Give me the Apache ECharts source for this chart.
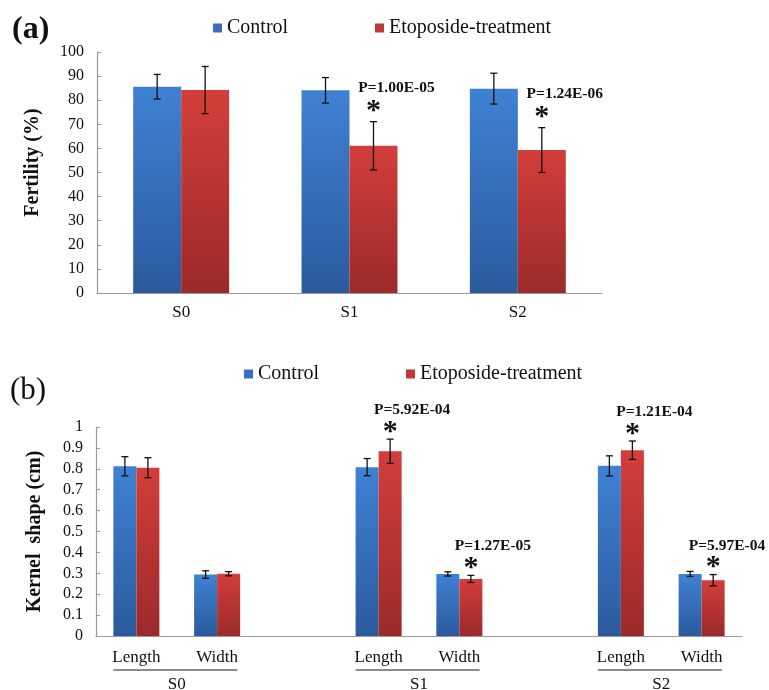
<!DOCTYPE html>
<html>
<head>
<meta charset="utf-8">
<script src="https://cdn.jsdelivr.net/npm/echarts@6/dist/echarts.min.js"></script>
<style>html,body{margin:0;padding:0;background:#fff}#c{width:769px;height:690px}</style>
</head>
<body>
<div id="c"></div>
<script>
// ---------- data ----------
const topCategories = ['S0', 'S1', 'S2'];
const topControl = [85.6, 84.1, 84.8];
const topControlErr = [5.1, 5.3, 6.4];
const topTreat = [84.2, 61.1, 59.3];
const topTreatErr = [9.8, 10.0, 9.3];
const topPValues = [null, 'P=1.00E-05', 'P=1.24E-06'];
const topYTicks = { min: 0, max: 100, interval: 10 };

const bottomCategories = ['Length', 'Width', '', 'Length', 'Width', '', 'Length', 'Width'];
const bottomControl = [0.812, 0.294, null, 0.808, 0.297, null, 0.814, 0.297];
const bottomControlErr = [0.046, 0.018, null, 0.041, 0.010, null, 0.048, 0.012];
const bottomTreat = [0.805, 0.298, null, 0.884, 0.273, null, 0.889, 0.267];
const bottomTreatErr = [0.048, 0.010, null, 0.058, 0.017, null, 0.044, 0.027];
const bottomPValues = [null, null, null, 'P=5.92E-04', 'P=1.27E-05', null, 'P=1.21E-04', 'P=5.97E-04'];
const groupLabels = ['S0', 'S1', 'S2'];
const groupStarts = [0, 3, 6];
const bottomYTicks = { min: 0, max: 1, interval: 0.1 };

const seriesNames = ['Control', 'Etoposide-treatment'];
const topLabels = ['(a)', '(b)'];
const yNames = ['Fertility (%)', 'Kernel  shape (cm)'];

// ---------- styles ----------
const FONT = "'Liberation Serif', 'Times New Roman', serif";
const TXT = '#111';
const AXIS = '#9a9a9a';
const GAP = 0.43;
const blueGrad = { type: 'linear', x: 0, y: 0, x2: 0, y2: 1, colorStops: [{ offset: 0, color: '#3f81d4' }, { offset: 1, color: '#2b5a9c' }] };
const redGrad = { type: 'linear', x: 0, y: 0, x2: 0, y2: 1, colorStops: [{ offset: 0, color: '#d33e3a' }, { offset: 1, color: '#9b2a2a' }] };

function errData(vals, errs) {
  const out = [];
  vals.forEach((v, i) => { if (v != null) out.push([i, v, errs[i]]); });
  return out;
}
function errRender(side) {
  return function (params, api) {
    const i = api.value(0), v = api.value(1), e = api.value(2);
    const band = api.size([1, 0])[0];
    const bw = band * (1 - GAP) / 2;
    const cx = api.coord([i, v])[0] + side * bw / 2;
    const hi = api.coord([i, v + e])[1];
    const lo = api.coord([i, v - e])[1];
    const cap = 3.5;
    const st = { stroke: '#111', lineWidth: 1.3 };
    return {
      type: 'group', children: [
        { type: 'line', shape: { x1: cx, y1: hi, x2: cx, y2: lo }, style: st },
        { type: 'line', shape: { x1: cx - cap, y1: hi, x2: cx + cap, y2: hi }, style: st },
        { type: 'line', shape: { x1: cx - cap, y1: lo, x2: cx + cap, y2: lo }, style: st }
      ]
    };
  };
}
function annoData(vals, errs, ps) {
  const out = [];
  ps.forEach((p, i) => { if (p) out.push([i, vals[i] + errs[i]]); });
  return out;
}
function annoRender(ps, cfg) {
  const idxs = ps.map((p, i) => p ? i : -1).filter(i => i >= 0);
  return function (params, api) {
    const i = api.value(0), top = api.value(1);
    const band = api.size([1, 0])[0];
    const bw = band * (1 - GAP) / 2;
    const c = api.coord([i, top]);
    const cx = c[0] + bw / 2;
    const px = Math.min(cx + cfg.pdx, api.getWidth() - 42);
    return {
      type: 'group', children: [
        { type: 'text', x: cx, y: c[1] - cfg.star, style: { text: '*', font: 'bold 30px ' + FONT, fill: '#111', align: 'center', verticalAlign: 'top' } },
        { type: 'text', x: px, y: c[1] - cfg.pdy, style: { text: ps[idxs[params.dataIndex]], font: 'bold 15.5px ' + FONT, fill: '#111', align: 'center', verticalAlign: 'middle' } }
      ]
    };
  };
}

const chart = echarts.init(document.getElementById('c'), null, { renderer: 'canvas' });

function legendItem(name, color, left, top) {
  return {
    data: [{ name: name, itemStyle: { color: color } }], left: left, top: top, padding: 0,
    icon: 'rect', itemWidth: 9, itemHeight: 9, selectedMode: false,
    textStyle: { fontFamily: FONT, fontSize: 20, color: TXT }
  };
}

const option = {
  backgroundColor: '#fff',
  animation: false,
  textStyle: { fontFamily: FONT },
  legend: [
    legendItem(seriesNames[0], '#3a6fc0', 213, 18),
    legendItem(seriesNames[1], '#c0393a', 375, 18),
    legendItem(seriesNames[0], '#3a6fc0', 244, 364),
    legendItem(seriesNames[1], '#c0393a', 406, 364)
  ],
  graphic: [
    { type: 'text', left: 12, top: 14, style: { text: topLabels[0], font: 'bold 32px ' + FONT, fill: TXT } },
    { type: 'text', left: 10, top: 375, style: { text: topLabels[1], font: '31px ' + FONT, fill: TXT } }
  ],
  grid: [
    { left: 97, top: 52, width: 505, height: 241 },
    { left: 96, top: 427, width: 646, height: 209 }
  ],
  xAxis: [
    {
      gridIndex: 0, type: 'category', data: topCategories,
      axisLine: { lineStyle: { color: AXIS, width: 1.2 } },
      axisTick: { inside: true, length: 5, lineStyle: { color: AXIS } },
      axisLabel: { fontFamily: FONT, fontSize: 17, color: TXT, margin: 11 }
    },
    {
      gridIndex: 1, type: 'category', data: bottomCategories,
      axisLine: { lineStyle: { color: AXIS, width: 1.2 } },
      axisTick: { inside: true, length: 5, lineStyle: { color: AXIS } },
      axisLabel: { fontFamily: FONT, fontSize: 17, color: TXT, margin: 13, interval: 0 }
    }
  ],
  yAxis: [
    {
      gridIndex: 0, type: 'value', min: topYTicks.min, max: topYTicks.max, interval: topYTicks.interval,
      name: yNames[0], nameLocation: 'middle', nameGap: 54,
      nameTextStyle: { fontFamily: FONT, fontSize: 20, fontWeight: 'bold', color: TXT, padding: [0, 0, 0, 20] },
      axisLine: { show: true, lineStyle: { color: AXIS, width: 1.2 } },
      axisTick: { show: true, inside: true, length: 4, lineStyle: { color: AXIS } },
      splitLine: { show: false },
      axisLabel: { fontFamily: FONT, fontSize: 16, color: TXT, margin: 13 }
    },
    {
      gridIndex: 1, type: 'value', min: bottomYTicks.min, max: bottomYTicks.max, interval: bottomYTicks.interval,
      name: yNames[1], nameLocation: 'middle', nameGap: 51,
      nameTextStyle: { fontFamily: FONT, fontSize: 20, fontWeight: 'bold', color: TXT },
      axisLine: { show: true, lineStyle: { color: AXIS, width: 1.2 } },
      axisTick: { show: true, inside: true, length: 4, lineStyle: { color: AXIS } },
      splitLine: { show: false },
      axisLabel: { fontFamily: FONT, fontSize: 16, color: TXT, margin: 13, formatter: v => (Math.round(v * 10) / 10).toString() }
    }
  ],
  series: [
    { name: seriesNames[0], type: 'bar', xAxisIndex: 0, yAxisIndex: 0, data: topControl, barGap: '0%', barCategoryGap: (GAP * 100) + '%', itemStyle: { color: blueGrad } },
    { name: seriesNames[1], type: 'bar', xAxisIndex: 0, yAxisIndex: 0, data: topTreat, barGap: '0%', barCategoryGap: (GAP * 100) + '%', itemStyle: { color: redGrad } },
    { name: seriesNames[0], type: 'bar', xAxisIndex: 1, yAxisIndex: 1, data: bottomControl, barGap: '0%', barCategoryGap: (GAP * 100) + '%', itemStyle: { color: blueGrad } },
    { name: seriesNames[1], type: 'bar', xAxisIndex: 1, yAxisIndex: 1, data: bottomTreat, barGap: '0%', barCategoryGap: (GAP * 100) + '%', itemStyle: { color: redGrad } },
    { type: 'custom', xAxisIndex: 0, yAxisIndex: 0, data: errData(topControl, topControlErr), renderItem: errRender(-1), z: 10, silent: true },
    { type: 'custom', xAxisIndex: 0, yAxisIndex: 0, data: errData(topTreat, topTreatErr), renderItem: errRender(1), z: 10, silent: true },
    { type: 'custom', xAxisIndex: 1, yAxisIndex: 1, data: errData(bottomControl, bottomControlErr), renderItem: errRender(-1), z: 10, silent: true },
    { type: 'custom', xAxisIndex: 1, yAxisIndex: 1, data: errData(bottomTreat, bottomTreatErr), renderItem: errRender(1), z: 10, silent: true },
    { type: 'custom', xAxisIndex: 0, yAxisIndex: 0, data: annoData(topTreat, topTreatErr, topPValues), renderItem: annoRender(topPValues, { star: 25, pdx: 23, pdy: 34 }), z: 11, silent: true, clip: false },
    { type: 'custom', xAxisIndex: 1, yAxisIndex: 1, data: annoData(bottomTreat, bottomTreatErr, bottomPValues), renderItem: annoRender(bottomPValues, { star: 22, pdx: 22, pdy: 29 }), z: 11, silent: true, clip: false },
    {
      type: 'custom', xAxisIndex: 1, yAxisIndex: 1, clip: false, silent: true, z: 11,
      data: groupStarts.map(s => [s, 0]),
      renderItem: function (params, api) {
        const s = api.value(0);
        const band = api.size([1, 0])[0];
        const c0 = api.coord([s, 0]);
        const c1 = api.coord([s + 1, 0]);
        return {
          type: 'group', children: [
            { type: 'line', shape: { x1: c0[0] - 0.285 * band, y1: c0[1] + 34, x2: c1[0] + 0.25 * band, y2: c0[1] + 34 }, style: { stroke: '#666', lineWidth: 1.5 } },
            { type: 'text', x: (c0[0] + c1[0]) / 2, y: c0[1] + 49, style: { text: groupLabels[params.dataIndex], font: '17px ' + FONT, fill: TXT, align: 'center', verticalAlign: 'middle' } }
          ]
        };
      }
    }
  ]
};
chart.setOption(option);
</script>
</body>
</html>
